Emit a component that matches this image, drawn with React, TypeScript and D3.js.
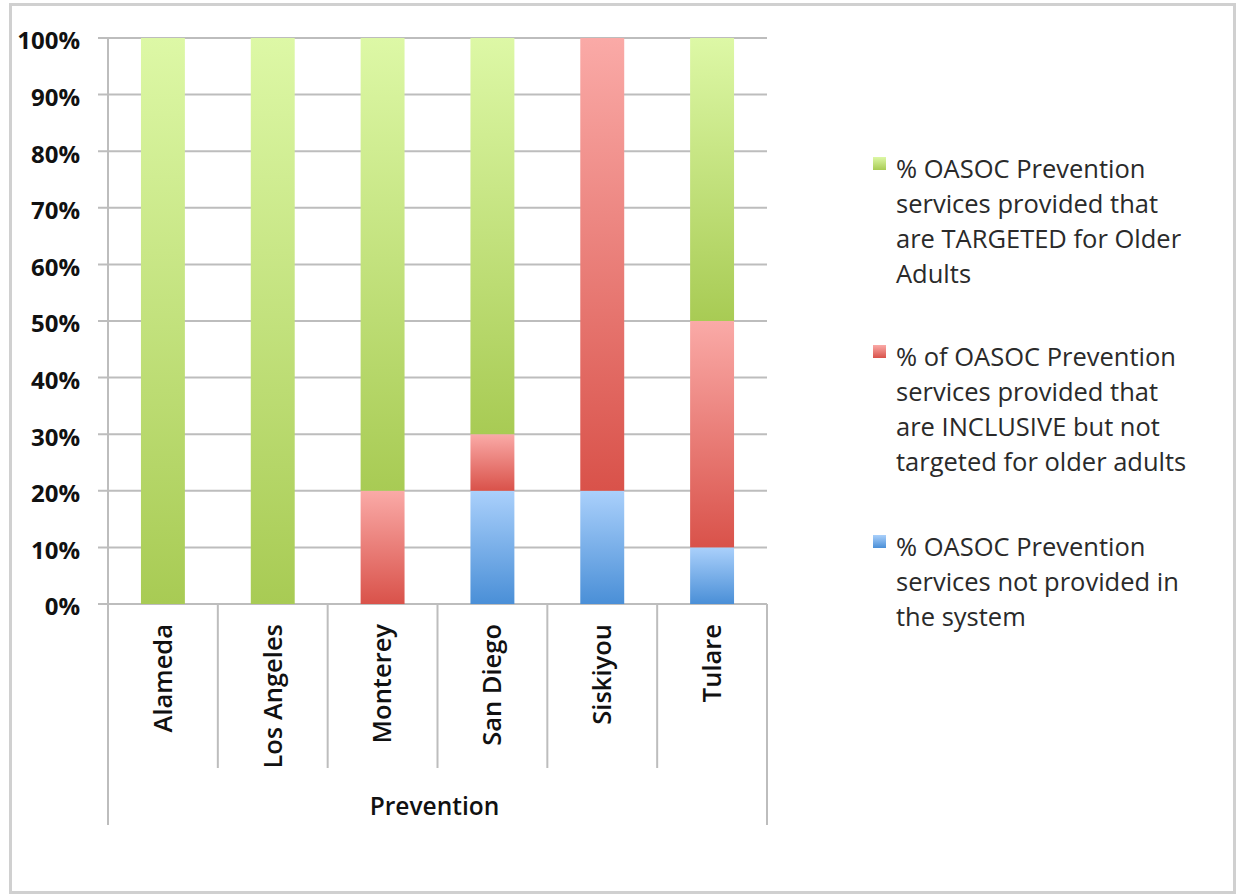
import React from "react";
import * as d3 from "d3";

// County categories along the x axis
const categories = ["Alameda", "Los Angeles", "Monterey", "San Diego", "Siskiyou", "Tulare"];

// Percent of OASOC prevention services, per county (stacked bottom → top)
const notProvided = [0, 0, 0, 20, 20, 10];
const inclusive = [0, 0, 20, 10, 80, 40];
const targeted = [100, 100, 80, 70, 0, 50];

const yTicks = [0, 10, 20, 30, 40, 50, 60, 70, 80, 90, 100];

const seriesKeys = ["notProvided", "inclusive", "targeted"];

const legendLines: Record<string, string[]> = {
  targeted: ["% OASOC Prevention", "services provided that", "are TARGETED for Older", "Adults"],
  inclusive: ["% of OASOC Prevention", "services provided that", "are INCLUSIVE but not", "targeted for older adults"],
  notProvided: ["% OASOC Prevention", "services not provided in", "the system"],
};

const gradients: Record<string, [string, string]> = {
  targeted: ["#ddf8a6", "#a8cb54"],
  inclusive: ["#faaaa7", "#d9524a"],
  notProvided: ["#aad0fb", "#4a8fd7"],
};

const legendOrder = ["targeted", "inclusive", "notProvided"];

const FONT = "'Open Sans', 'DejaVu Sans', sans-serif";

export default function App() {
  const width = 1238;
  const height = 896;
  const plot = { left: 108, right: 767, top: 38, bottom: 604 };

  const rows = categories.map((c, i) => ({
    category: c,
    notProvided: notProvided[i],
    inclusive: inclusive[i],
    targeted: targeted[i],
  }));

  const x = d3
    .scaleBand<string>()
    .domain(categories)
    .range([plot.left, plot.right])
    .paddingInner(0.6)
    .paddingOuter(0.3);

  const y = d3.scaleLinear().domain([0, 100]).range([plot.bottom, plot.top]);

  const stack = d3.stack<any>().keys(seriesKeys);
  const stacked = stack(rows);

  const step = x.step();
  const dividerXs = categories.map((_, i) => plot.left + i * step).concat([plot.right]);

  const legendX = 873;
  const legendStart: Record<string, number> = { targeted: 178, inclusive: 366, notProvided: 556 };
  const lineH = 35;

  return (
    <>
      <style>{`body{margin:0}`}</style>
      <svg width={width} height={height} style={{ display: "block", background: "#fff" }}>
        <defs>
          {seriesKeys.map((k) => (
            <linearGradient key={k} id={`grad-${k}`} x1="0" y1="0" x2="0" y2="1">
              <stop offset="0%" stopColor={gradients[k][0]} />
              <stop offset="100%" stopColor={gradients[k][1]} />
            </linearGradient>
          ))}
        </defs>

        {/* outer chart frame */}
        <rect x={10.5} y={4.5} width={1224} height={888} fill="#fff" stroke="#d0d0d0" strokeWidth={3} />

        {/* horizontal gridlines and y ticks */}
        {yTicks.map((t) => (
          <g key={t}>
            <line x1={plot.left - 10} x2={plot.right} y1={y(t)} y2={y(t)} stroke="#bdbdbd" strokeWidth={2} />
            <text
              x={80}
              y={y(t) + 5}
              textAnchor="end"
              dominantBaseline="middle"
              fontFamily={FONT}
              fontWeight={700}
              fontSize={24}
              fill="#111"
            >
              {t}%
            </text>
          </g>
        ))}

        {/* y axis line */}
        <line x1={plot.left} x2={plot.left} y1={plot.top} y2={825} stroke="#bdbdbd" strokeWidth={2} />
        <line x1={plot.right} x2={plot.right} y1={plot.bottom} y2={825} stroke="#bdbdbd" strokeWidth={2} />

        {/* category dividers below the axis */}
        {dividerXs.slice(1, -1).map((dx, i) => (
          <line key={i} x1={dx} x2={dx} y1={plot.bottom} y2={768} stroke="#bdbdbd" strokeWidth={2} />
        ))}

        {/* stacked bars */}
        {stacked.map((layer) => (
          <g key={layer.key} fill={`url(#grad-${layer.key})`}>
            {layer.map((d, i) =>
              d[1] - d[0] > 0 ? (
                <rect
                  key={i}
                  x={x(categories[i])}
                  width={x.bandwidth()}
                  y={y(d[1])}
                  height={y(d[0]) - y(d[1])}
                />
              ) : null
            )}
          </g>
        ))}

        {/* category labels, rotated */}
        {categories.map((c) => {
          const cx = (x(c) as number) + x.bandwidth() / 2 + 2;
          const cy = 624;
          return (
            <text
              key={c}
              transform={`translate(${cx},${cy}) rotate(-90)`}
              textAnchor="end"
              dominantBaseline="middle"
              fontFamily={FONT}
              fontWeight={600}
              fontSize={25.5}
              fill="#111"
            >
              {c}
            </text>
          );
        })}

        {/* group label */}
        <text
          x={(plot.left + plot.right) / 2 - 3}
          y={808}
          textAnchor="middle"
          dominantBaseline="middle"
          fontFamily={FONT}
          fontWeight={600}
          fontSize={24.5}
          fill="#111"
        >
          Prevention
        </text>

        {/* legend */}
        {legendOrder.map((k) => (
          <g key={k}>
            <rect x={legendX} y={legendStart[k] - 21} width={13} height={13} fill={`url(#grad-${k})`} />
            {legendLines[k].map((line, j) => (
              <text
                key={j}
                x={896}
                y={legendStart[k] + j * lineH}
                fontFamily={FONT}
                fontSize={25.5}
                fill="#2a2a2a"
              >
                {line}
              </text>
            ))}
          </g>
        ))}
      </svg>
    </>
  );
}
